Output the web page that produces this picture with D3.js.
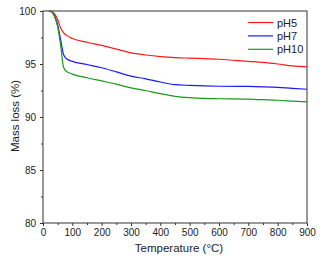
<!DOCTYPE html>
<html>
<head>
<meta charset="utf-8">
<script src="https://cdn.jsdelivr.net/npm/d3@7"></script>
<style>
    body { margin: 0; background: #fff; }
    svg text { font-family: 'Liberation Sans', Arial, sans-serif; fill: #222; }
</style>
</head>
<body>
<div id="chart"></div>
<script>
// temperature (°C)
const temps = [20, 30, 40, 50, 60, 70, 80, 100, 150, 200, 250, 300, 350, 400, 450, 500, 550, 600, 700, 750, 800, 850, 900]
// mass (%) per sample
const pH5 = [100, 99.95, 99.7, 99.2, 98.4, 97.95, 97.7, 97.4, 97.05, 96.75, 96.4, 96.05, 95.85, 95.7, 95.6, 95.55, 95.5, 95.45, 95.25, 95.15, 95.0, 94.82, 94.72]
const pH7 = [100, 99.9, 99.5, 98.7, 97.3, 95.9, 95.5, 95.25, 94.95, 94.65, 94.25, 93.85, 93.6, 93.3, 93.05, 92.98, 92.93, 92.9, 92.88, 92.85, 92.8, 92.7, 92.62]
const pH10 = [100, 99.9, 99.4, 98.5, 96.8, 94.7, 94.3, 94.05, 93.7, 93.4, 93.1, 92.75, 92.5, 92.2, 91.95, 91.82, 91.75, 91.72, 91.68, 91.63, 91.58, 91.5, 91.42]

const seriesNames = ['pH5', 'pH7', 'pH10']
const seriesValues = [pH5, pH7, pH10]
const colors = ['#ff1a1a', '#1a1aff', '#1a9a1a']
const xTicks = [0, 100, 200, 300, 400, 500, 600, 700, 800, 900]
const yTicks = [80, 85, 90, 95, 100]

const width = 322
const height = 260
const margin = { top: 11, right: 15, bottom: 37, left: 43 }

const svg = d3.select('#chart').append('svg')
    .attr('width', width)
    .attr('height', height)

// scales
const x = d3.scaleLinear().domain([0, 900]).range([margin.left, width - margin.right])
const y = d3.scaleLinear().domain([80, 100]).range([height - margin.bottom, margin.top])

// minor ticks
const xMinor = d3.range(50, 900, 100)
const yMinor = d3.range(82.5, 100, 5)

svg.append('g')
    .attr('transform', `translate(0,${height - margin.bottom})`)
    .call(d3.axisBottom(x).tickValues(xMinor).tickSize(2).tickFormat(''))
    .call((g) => g.select('.domain').remove())
    .call((g) => g.selectAll('line').attr('stroke', '#333'))

svg.append('g')
    .attr('transform', `translate(${margin.left},0)`)
    .call(d3.axisLeft(y).tickValues(yMinor).tickSize(2).tickFormat(''))
    .call((g) => g.select('.domain').remove())
    .call((g) => g.selectAll('line').attr('stroke', '#333'))

// main axes
svg.append('g')
    .attr('transform', `translate(0,${height - margin.bottom})`)
    .call(d3.axisBottom(x).tickValues(xTicks).tickSize(3).tickPadding(3).tickSizeOuter(0))
    .call((g) => g.select('.domain').remove())
    .call((g) => g.selectAll('line').attr('stroke', '#333'))
    .call((g) => g.selectAll('text').style('font-size', '10px').attr('fill', '#333'))

svg.append('g')
    .attr('transform', `translate(${margin.left},0)`)
    .call(d3.axisLeft(y).tickValues(yTicks).tickSize(3).tickPadding(4).tickSizeOuter(0))
    .call((g) => g.select('.domain').remove())
    .call((g) => g.selectAll('line').attr('stroke', '#333'))
    .call((g) => g.selectAll('text').style('font-size', '10px').attr('fill', '#333'))

// frame
svg.append('rect')
    .attr('x', x(0))
    .attr('y', y(100))
    .attr('width', x(900) - x(0))
    .attr('height', y(80) - y(100))
    .attr('fill', 'none')
    .attr('stroke', '#333')
    .attr('stroke-width', 1)

// lines
const line = d3.line()
    .x((d) => x(d[0]))
    .y((d) => y(d[1]))
    .curve(d3.curveMonotoneX)

seriesValues.forEach((vals, i) => {
    svg.append('path')
        .datum(temps.map((t, j) => [t, vals[j]]))
        .attr('fill', 'none')
        .attr('stroke', colors[i])
        .attr('stroke-width', 1.2)
        .attr('d', line)
})

// legend
const legend = svg.append('g').attr('transform', 'translate(248,22.5)')
seriesNames.forEach((name, i) => {
    const row = legend.append('g').attr('transform', `translate(0,${i * 13.4})`)
    row.append('line')
        .attr('x1', 0).attr('x2', 25)
        .attr('stroke', colors[i]).attr('stroke-width', 1.2)
    row.append('text')
        .attr('x', 29).attr('y', 4)
        .style('font-size', '11px')
        .text(name)
})

// axis titles
svg.append('text')
    .attr('x', 179)
    .attr('y', 252)
    .attr('text-anchor', 'middle')
    .style('font-size', '11.5px')
    .text('Temperature (°C)')

svg.append('text')
    .attr('transform', 'translate(19,116) rotate(-90)')
    .attr('text-anchor', 'middle')
    .style('font-size', '11.5px')
    .text('Mass loss (%)')
</script>
</body>
</html>
